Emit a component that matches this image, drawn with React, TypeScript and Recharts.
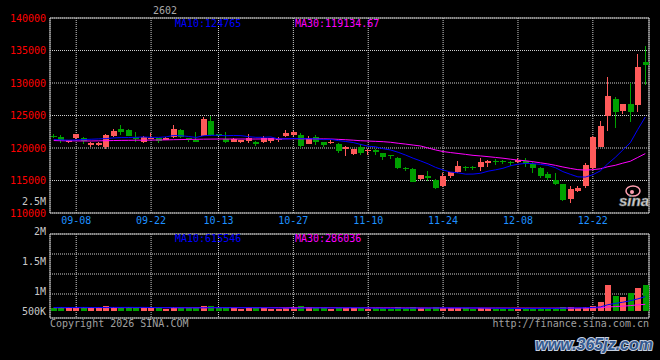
import React from 'react';
import { ComposedChart, Bar, Line, XAxis, YAxis, CartesianGrid, ReferenceArea } from 'recharts';

const MONO = '"DejaVu Sans Mono", monospace';
const UP = '#ff5a5a';
const DOWN = '#00a000';
const GRID = '#cfcfcf';
const FRAME = '#b4b4b4';

const DATES = [
  '09-03', '09-04', '09-05', '09-08', '09-09', '09-10', '09-11', '09-12', '09-15', '09-16',
  '09-17', '09-18', '09-19', '09-22', '09-23', '09-24', '09-25', '09-26', '09-29', '09-30',
  '10-09', '10-10', '10-13', '10-14', '10-15', '10-16', '10-17', '10-20', '10-21', '10-22',
  '10-23', '10-24', '10-27', '10-28', '10-29', '10-30', '10-31', '11-03', '11-04', '11-05',
  '11-06', '11-07', '11-10', '11-11', '11-12', '11-13', '11-14', '11-17', '11-18', '11-19',
  '11-20', '11-21', '11-24', '11-25', '11-26', '11-27', '11-28', '12-01', '12-02', '12-03',
  '12-04', '12-05', '12-08', '12-09', '12-10', '12-11', '12-12', '12-15', '12-16', '12-17',
  '12-18', '12-19', '12-22', '12-23', '12-24', '12-25', '12-26', '12-29', '12-30', '12-31',
];

const OPEN = [
  121900, 121700, 120850, 121550, 121500, 120500, 120500, 120150, 121850, 122950,
  122700, 121700, 120850, 121450, 121540, 121300, 121700, 122750, 121550, 121200,
  121850, 124100, 122100, 121450, 121000, 120850, 121150, 120950, 120880, 121150,
  121300, 121850, 122000, 122000, 120620, 121750, 120900, 120800, 120600, 119850,
  119100, 120200, 119600, 119700, 119200, 118950, 118500, 116950, 116750, 115200,
  115750, 115150, 114200, 115750, 116250, 117050, 117100, 117050, 117650, 118050,
  117950, 117800, 117800, 117950, 117600, 117000, 116050, 115100, 114450, 112150,
  113450, 114150, 116900, 120200, 124850, 127500, 125750, 126800, 126600, 133300,
];

const HIGH = [
  122100, 122000, 121300, 122200, 121700, 120900, 120850, 122150, 123000, 123600,
  122900, 122450, 121850, 122300, 121600, 121700, 123500, 122850, 121600, 122450,
  124770, 124900, 122200, 122400, 121600, 121300, 122150, 121100, 121850, 121600,
  121700, 122700, 122650, 122350, 121850, 122000, 121000, 121200, 120800, 120250,
  119850, 120550, 119850, 119800, 119300, 119000, 118600, 117100, 116850, 115900,
  116500, 115200, 116100, 116350, 118000, 117300, 117300, 118450, 118150, 118250,
  118150, 118000, 118450, 118400, 117900, 117150, 116250, 116100, 114500, 114150,
  114200, 117700, 121850, 124150, 130950, 127900, 126750, 130000, 134450, 135700,
];

const LOW = [
  121500, 120700, 120700, 121400, 120600, 120200, 120300, 119800, 121750, 121950,
  121800, 121000, 120800, 121400, 120800, 121200, 121500, 121600, 121000, 120850,
  121800, 121850, 121800, 120700, 120900, 120700, 120750, 120300, 120770, 120750,
  121000, 121700, 121900, 119950, 120550, 120500, 120200, 120600, 119300, 118800,
  119000, 118850, 118900, 118900, 118200, 118300, 116800, 116400, 114700, 115100,
  115000, 113700, 114000, 115400, 116100, 116500, 116600, 116500, 117000, 117400,
  117500, 117300, 117700, 117000, 116100, 115350, 115100, 114300, 111800, 111600,
  113200, 113900, 116800, 120100, 122650, 123050, 125250, 124050, 125600, 129700,
];

const CLOSE = [
  121750, 121200, 121200, 122100, 121100, 120800, 120750, 122050, 122620, 122450,
  121850, 121450, 121700, 121600, 121050, 121540, 122950, 121700, 121450, 120950,
  124500, 122050, 121850, 120850, 121450, 121200, 121500, 120600, 121500, 121500,
  121400, 122250, 122500, 120350, 121500, 120880, 120450, 121000, 119600, 120100,
  119800, 119300, 119750, 119450, 118550, 118850, 116950, 116750, 114800, 115850,
  115350, 113900, 115700, 116300, 117300, 116900, 117050, 117900, 118050, 117900,
  117800, 117700, 118150, 117500, 117000, 115750, 115400, 114450, 112050, 113700,
  113850, 117400, 121750, 123400, 128050, 125550, 126700, 125600, 132500, 132800,
];

const MA10 = [
  121300, 121250, 121200, 121250, 121300, 121350, 121400, 121450, 121550, 121600,
  121610, 121640, 121690, 121640, 121630, 121710, 121930, 121890, 121770, 121620,
  121890, 121950, 121960, 121890, 121930, 121900, 121750, 121640, 121650, 121700,
  121390, 121410, 121480, 121430, 121430, 121400, 121290, 121330, 121140, 121000,
  120840, 120550, 120270, 120180, 119890, 119690, 119340, 118910, 118430, 118010,
  117560, 117020, 116620, 116300, 116180, 115980, 115990, 116110, 116430, 116640,
  116880, 117260, 117510, 117630, 117600, 117480, 117320, 116970, 116370, 115950,
  115560, 115530, 115890, 116480, 117580, 118560, 119690, 120810, 122850, 124765,
];

const MA30 = [
  121150, 121120, 121100, 121100, 121080, 121080, 121100, 121120, 121150, 121170,
  121180, 121200, 121200, 121220, 121230, 121250, 121280, 121300, 121320, 121340,
  121360, 121370, 121380, 121380, 121380, 121380, 121380, 121380, 121390, 121400,
  121400, 121410, 121420, 121410, 121410, 121400, 121400, 121380, 121330, 121270,
  121200, 121120, 121070, 121020, 120970, 120880, 120730, 120600, 120450, 120310,
  120000, 119700, 119450, 119300, 119160, 119020, 118870, 118780, 118670, 118550,
  118430, 118280, 118130, 118040, 117890, 117720, 117550, 117330, 117080, 116860,
  116670, 116600, 116670, 116800, 117120, 117340, 117670, 117960, 118550, 119134.67,
];

const VOL = [
  150000, 170000, 120000, 160000, 170000, 130000, 120000, 210000, 180000, 160000,
  170000, 140000, 150000, 110000, 140000, 100000, 170000, 150000, 110000, 140000,
  210000, 200000, 130000, 170000, 120000, 100000, 130000, 110000, 120000, 100000,
  90000, 150000, 170000, 200000, 170000, 150000, 120000, 100000, 140000, 130000,
  120000, 130000, 100000, 110000, 130000, 100000, 160000, 120000, 180000, 150000,
  140000, 160000, 140000, 120000, 130000, 110000, 100000, 130000, 110000, 100000,
  100000, 100000, 110000, 110000, 120000, 140000, 120000, 150000, 190000, 170000,
  150000, 190000, 230000, 380000, 1100000, 650000, 620000, 780000, 980000, 1100000,
];

const VOL_MA10 = [
  150000, 152000, 150000, 151000, 153000, 150000, 148000, 152000, 154000, 153000,
  155000, 152000, 155000, 150000, 147000, 144000, 143000, 140000, 138000, 137000,
  137000, 143000, 141000, 143000, 141000, 141000, 144000, 139000, 140000, 136000,
  131000, 126000, 122000, 125000, 130000, 135000, 134000, 133000, 135000, 137000,
  140000, 138000, 131000, 122000, 118000, 113000, 117000, 119000, 123000, 125000,
  127000, 130000, 134000, 135000, 135000, 136000, 130000, 131000, 124000, 119000,
  114000, 108000, 105000, 104000, 103000, 106000, 108000, 111000, 119000, 126000,
  131000, 140000, 152000, 175000, 269000, 326000, 376000, 439000, 519000, 615546,
];

const VOL_MA30 = [
  140000, 141000, 141000, 142000, 142000, 142000, 143000, 143000, 144000, 144000,
  145000, 145000, 145000, 144000, 144000, 143000, 143000, 143000, 142000, 142000,
  143000, 144000, 144000, 145000, 145000, 144000, 144000, 143000, 143000, 142000,
  141000, 141000, 141000, 142000, 142000, 142000, 142000, 141000, 141000, 140000,
  139000, 138000, 137000, 136000, 135000, 134000, 133000, 132000, 132000, 132000,
  131000, 131000, 131000, 130000, 130000, 129000, 128000, 128000, 127000, 127000,
  126000, 125000, 125000, 124000, 124000, 124000, 124000, 125000, 126000, 127000,
  128000, 130000, 133000, 141000, 172000, 190000, 207000, 231000, 262000, 286036,
];

const DATE_TICKS = ['09-08', '09-22', '10-13', '10-27', '11-10', '11-24', '12-08', '12-22'];
const PRICE_TICKS = [110000, 115000, 120000, 125000, 130000, 135000, 140000];
const PRICE_DOMAIN = [110000, 140000];
const VOL_TICKS = [500000, 1000000, 1500000, 2000000, 2500000];
const VOL_DOMAIN = [-300000, 3300000];
const VOL_GRID_TICKS = [500000, 1000000, 1500000, 2000000];
const VOL_GRID_DOMAIN = [-100000, 2000000];
const VOL_LABEL_DOMAIN = [550000, 1950000];

const rows = DATES.map((date, i) => ({
  date,
  open: OPEN[i],
  high: HIGH[i],
  low: LOW[i],
  close: CLOSE[i],
  ma10: MA10[i],
  ma30: MA30[i],
  vol: VOL[i],
  vma10: VOL_MA10[i],
  vma30: VOL_MA30[i],
}));

const last = (a: number[]) => a[a.length - 1];

function Candle(props: any) {
  const { x, y, width, height, payload } = props;
  if (x == null || !payload) return null;
  const top = Math.min(y, y + height);
  const h = Math.abs(height);
  const span = payload.high - payload.low || 1;
  const toY = (v: number) => top + (h * (payload.high - v)) / span;
  const color = payload.close >= payload.open ? UP : DOWN;
  const left = Math.round(x + width / 2 - 3);
  const bTop = Math.round(toY(Math.max(payload.open, payload.close)));
  const bBot = Math.round(toY(Math.min(payload.open, payload.close)));
  return (
    <g>
      <line x1={left + 2.5} x2={left + 2.5} y1={Math.round(top)} y2={Math.round(top + h)} stroke={color} />
      <rect x={left} y={bTop} width={6} height={Math.max(1, bBot - bTop)} fill={color} />
    </g>
  );
}

function VolBar(props: any) {
  const { x, y, width, height, payload } = props;
  if (x == null || !payload) return null;
  const top = Math.round(Math.min(y, y + height));
  const bottom = Math.round(Math.max(y, y + height));
  const left = Math.round(x + width / 2 - 3);
  return (
    <rect
      x={left}
      y={top}
      width={6}
      height={Math.max(1, bottom - top)}
      fill={payload.close >= payload.open ? UP : DOWN}
    />
  );
}

const fmtVol = (v: number) => (v >= 1000000 ? `${v / 1000000}M` : `${v / 1000}K`);

function VolTick(props: any) {
  const { y, payload } = props;
  // labels sit right-aligned against the panel's left edge; the lowest is kept inside the panel
  const yy = Math.min(y, 121);
  return (
    <text x={46} y={yy} dy="0.355em" textAnchor="end" fill="#c8c8c8" fontSize={10} fontFamily={MONO}>
      {fmtVol(payload.value)}
    </text>
  );
}

const NoTick = () => <g />;

function PriceChart() {
  return (
    <ComposedChart width={660} height={232} data={rows} margin={{ top: 18, right: 11, bottom: 0, left: 4 }}>
      <CartesianGrid stroke={GRID} strokeDasharray="1 1" />
      <XAxis
        dataKey="date"
        ticks={DATE_TICKS}
        interval={0}
        height={19}
        axisLine={false}
        tickLine={false}
        tickSize={0}
        tickMargin={4}
        tick={{ fill: '#1e90ff', fontSize: 10, fontFamily: MONO }}
      />
      <YAxis
        type="number"
        domain={PRICE_DOMAIN}
        ticks={PRICE_TICKS}
        interval={0}
        width={46}
        axisLine={false}
        tickLine={false}
        tickSize={0}
        tickMargin={4}
        allowDataOverflow
        tick={{ fill: '#ff0000', fontSize: 10, fontFamily: MONO }}
      />
      <ReferenceArea y1={PRICE_DOMAIN[0]} y2={PRICE_DOMAIN[1]} fill="none" stroke={FRAME} />
      <Bar dataKey={(d: any) => [d.low, d.high]} barSize={6} shape={(p: any) => <Candle {...p} />} isAnimationActive={false} />
      <Line dataKey="ma30" stroke="#ff00ff" strokeWidth={1} dot={false} activeDot={false} isAnimationActive={false} />
      <Line dataKey="ma10" stroke="#0000ff" strokeWidth={1} dot={false} activeDot={false} isAnimationActive={false} />
    </ComposedChart>
  );
}

function VolumeChart() {
  return (
    <ComposedChart width={660} height={140} data={rows} margin={{ top: 44, right: 11, bottom: 12, left: 4 }}>
      <CartesianGrid yAxisId="grid" stroke={GRID} strokeDasharray="1 1" />
      <XAxis
        dataKey="date"
        ticks={DATE_TICKS}
        interval={0}
        height={0}
        axisLine={false}
        tickLine={false}
        tick={NoTick}
      />
      <YAxis
        yAxisId="lab"
        type="number"
        domain={VOL_LABEL_DOMAIN}
        ticks={VOL_TICKS}
        interval={0}
        width={46}
        axisLine={false}
        tickLine={false}
        tickSize={0}
        tickMargin={4}
        allowDataOverflow
        tick={VolTick}
      />
      <YAxis yAxisId="vol" type="number" domain={VOL_DOMAIN} width={0} axisLine={false} tickLine={false} tick={NoTick} allowDataOverflow />
      <YAxis
        yAxisId="grid"
        type="number"
        domain={VOL_GRID_DOMAIN}
        ticks={VOL_GRID_TICKS}
        interval={0}
        width={0}
        axisLine={false}
        tickLine={false}
        tick={NoTick}
        allowDataOverflow
      />
      <ReferenceArea yAxisId="vol" y1={VOL_DOMAIN[0]} y2={VOL_DOMAIN[1]} fill="none" stroke={FRAME} />
      <Bar yAxisId="vol" dataKey="vol" barSize={6} shape={(p: any) => <VolBar {...p} />} isAnimationActive={false} />
      <Line yAxisId="vol" dataKey="vma30" stroke="#ff00ff" strokeWidth={1} dot={false} activeDot={false} isAnimationActive={false} />
      <Line yAxisId="vol" dataKey="vma10" stroke="#0000ff" strokeWidth={1} dot={false} activeDot={false} isAnimationActive={false} />
    </ComposedChart>
  );
}

export default function App() {
  return (
    <div style={{ position: 'fixed', left: 0, top: 0, width: 660, height: 360, background: '#000', overflow: 'hidden' }}>
      <div style={{ position: 'absolute', left: 0, top: 0 }}>
        <PriceChart />
      </div>
      <div style={{ position: 'absolute', left: 0, top: 190 }}>
        <VolumeChart />
      </div>
      <svg width={660} height={360} style={{ position: 'absolute', left: 0, top: 0, pointerEvents: 'none' }}>
        <g fontFamily={MONO} fontSize={10}>
          <text x={153} y={13.5} fill="#a8a8a8">2602</text>
          <text x={175} y={26.5} fill="#0000ff">{`MA10:${last(MA10)}`}</text>
          <text x={295} y={26.5} fill="#ff00ff">{`MA30:${last(MA30)}`}</text>
          <text x={175} y={241.5} fill="#0000ff">{`MA10:${last(VOL_MA10)}`}</text>
          <text x={295} y={241.5} fill="#ff00ff">{`MA30:${last(VOL_MA30)}`}</text>
          <text x={50} y={327} fill="#a0a0a0">Copyright 2026 SINA.COM</text>
          <text x={649} y={327} fill="#a0a0a0" textAnchor="end">http://finance.sina.com.cn</text>
        </g>
        <ellipse cx={633} cy={191} rx={7} ry={5} fill="none" stroke="#ff9fb0" strokeWidth={1.5} />
        <circle cx={632} cy={192} r={2} fill="#ff9fb0" />
        <text
          x={619}
          y={206}
          fontFamily='"Liberation Sans", Arial, sans-serif'
          fontWeight="bold"
          fontStyle="italic"
          fontSize={15}
          fill="#d8d8d8"
          stroke="#777"
          strokeWidth={0.6}
        >
          sina
        </text>
        <text
          x={653}
          y={350}
          textAnchor="end"
          fontFamily='"Liberation Sans", Arial, sans-serif'
          fontWeight="bold"
          fontStyle="italic"
          fontSize={16}
          fill="#33598f"
          stroke="#c5cfe0"
          strokeWidth={2}
          paintOrder="stroke"
        >
          www.365jz.com
        </text>
      </svg>
    </div>
  );
}
